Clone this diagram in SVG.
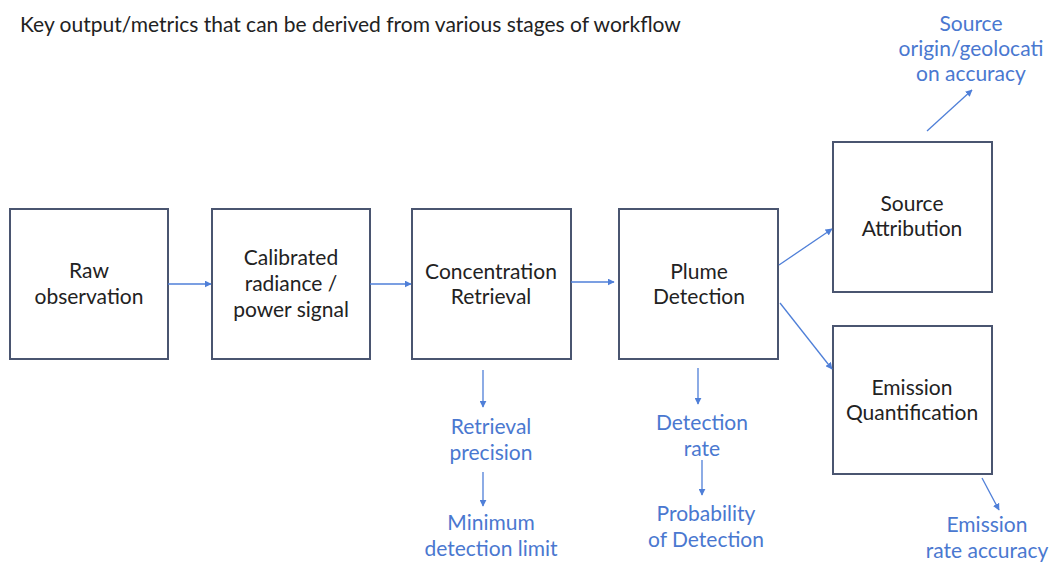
<svg xmlns="http://www.w3.org/2000/svg" width="1049" height="564" viewBox="0 0 1049 564">
<style>
.box{fill:#fff;stroke:#4a5570;stroke-width:2}
.t{font-family:Lato,"Liberation Sans",sans-serif;font-size:21px;fill:#222;text-anchor:middle}
.m{font-family:Lato,"Liberation Sans",sans-serif;font-size:21px;fill:#4a78d0;text-anchor:middle}
.c{stroke:#4f7fd8;stroke-width:1.3;fill:none;marker-end:url(#ah)}
</style>
<defs>
<marker id="ah" viewBox="0 0 10 10" refX="9" refY="5" markerWidth="7" markerHeight="7" orient="auto" markerUnits="userSpaceOnUse">
<path d="M0,0 L10,5 L0,10 z" fill="#4f7fd8"/>
</marker>
</defs>
<rect width="1049" height="564" fill="#fff"/>
<text x="20" y="32" font-family="Lato,'Liberation Sans',sans-serif" font-size="21" fill="#222">Key output/metrics that can be derived from various stages of workflow</text>
<g id="raw"><rect class="box" x="10" y="209" width="158" height="150"/><text class="t" x="89" y="278">Raw</text><text class="t" x="89" y="304">observation</text></g>
<g id="calibrated"><rect class="box" x="212" y="209" width="158" height="150"/><text class="t" x="291" y="265">Calibrated</text><text class="t" x="291" y="291">radiance /</text><text class="t" x="291" y="317">power signal</text></g>
<g id="concentration"><rect class="box" x="412" y="209" width="159" height="150"/><text class="t" x="491" y="279">Concentration</text><text class="t" x="491" y="304">Retrieval</text></g>
<g id="plume"><rect class="box" x="619" y="209" width="159" height="150"/><text class="t" x="699" y="279">Plume</text><text class="t" x="699" y="304">Detection</text></g>
<g id="source"><rect class="box" x="833" y="142" width="159" height="150"/><text class="t" x="912" y="211">Source</text><text class="t" x="912" y="236">Attribution</text></g>
<g id="emission"><rect class="box" x="833" y="326" width="159" height="148"/><text class="t" x="912" y="395">Emission</text><text class="t" x="912" y="420">Quantification</text></g>
<g id="m-source"><text class="m" x="971" y="31">Source</text><text class="m" x="971" y="56">origin/geolocati</text><text class="m" x="971" y="81">on accuracy</text></g>
<g id="m-retrieval"><text class="m" x="491" y="434">Retrieval</text><text class="m" x="491" y="460">precision</text></g>
<g id="m-mdl"><text class="m" x="491" y="530">Minimum</text><text class="m" x="491" y="556">detection limit</text></g>
<g id="m-detrate"><text class="m" x="702" y="430">Detection</text><text class="m" x="702" y="456">rate</text></g>
<g id="m-pod"><text class="m" x="706" y="521">Probability</text><text class="m" x="706" y="547">of Detection</text></g>
<g id="m-emission"><text class="m" x="987" y="532">Emission</text><text class="m" x="987" y="558">rate accuracy</text></g>
<g id="connectors">
<line class="c" x1="168" y1="284" x2="211" y2="284"/>
<line class="c" x1="370" y1="284" x2="411" y2="284"/>
<line class="c" x1="571" y1="282" x2="614" y2="282"/>
<line class="c" x1="779" y1="265" x2="832" y2="229"/>
<line class="c" x1="780" y1="303" x2="832" y2="369"/>
<line class="c" x1="483" y1="370" x2="483" y2="407"/>
<line class="c" x1="483" y1="472" x2="483" y2="506"/>
<line class="c" x1="698" y1="368" x2="698" y2="404"/>
<line class="c" x1="702" y1="460" x2="702" y2="495"/>
<line class="c" x1="927" y1="131" x2="972" y2="90"/>
<line class="c" x1="982" y1="478" x2="999" y2="510"/>
</g>
</svg>
